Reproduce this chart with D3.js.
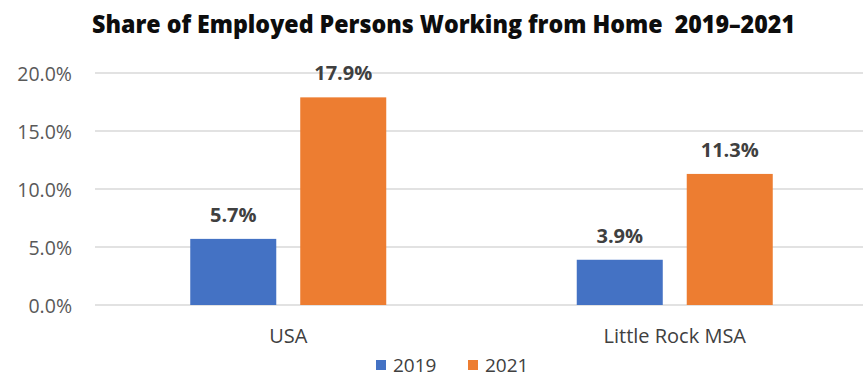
<!DOCTYPE html>
<html>
<head>
<meta charset="utf-8">
<script src="https://cdn.jsdelivr.net/npm/d3@7"></script>
<style>
  html, body { margin: 0; padding: 0; background: #ffffff; }
  svg { display: block; }
  text { font-family: "Open Sans", "DejaVu Sans", sans-serif; }
</style>
</head>
<body>
<svg id="chart" width="863" height="379"></svg>
<script>
const categories = ["USA", "Little Rock MSA"];
const seriesNames = ["2019", "2021"];
const values2019 = [0.057, 0.039];
const values2021 = [0.179, 0.113];
const yTicks = [0, 0.05, 0.10, 0.15, 0.20];
const titleText = "Share of Employed Persons Working from Home  2019\u20132021";
const colors = ["#4472C4", "#ED7D31"];

const svg = d3.select("#chart");
const W = 863, H = 379;
const plotLeft = 95, plotRight = 868, plotTop = 73, plotBottom = 305;

const y = d3.scaleLinear().domain([0, 0.20]).range([plotBottom, plotTop]);
const x0 = d3.scaleBand().domain(categories).range([plotLeft, plotRight]).padding(0);
const x1 = d3.scaleBand().domain(seriesNames).range([0, x0.bandwidth()])
  .paddingInner(0.218).paddingOuter(0.866);

// title
svg.append("text")
  .attr("x", 92).attr("y", 33)
  .attr("textLength", 703).attr("lengthAdjust", "spacingAndGlyphs")
  .style("white-space", "pre")
  .attr("font-size", 24).attr("font-weight", 800).attr("fill", "#0d0d0d")
  .text(titleText);

// gridlines
svg.append("g").selectAll("line").data(yTicks).join("line")
  .attr("x1", plotLeft).attr("x2", W)
  .attr("y1", d => y(d)).attr("y2", d => y(d))
  .attr("stroke", "#D9D9D9").attr("stroke-width", 1.5);

// y axis labels via d3 axis
const yAxis = d3.axisLeft(y).tickValues(yTicks).tickFormat(d3.format(".1%")).tickSize(0).tickPadding(0);
const gy = svg.append("g").attr("transform", "translate(72,0)").call(yAxis);
gy.select(".domain").remove();
gy.selectAll("text").attr("font-size", 19.5).attr("fill", "#595959")
  .attr("font-family", "\"Open Sans\", sans-serif").attr("dy", "0.36em");

// bars
const rows = categories.map((c, i) => ({ cat: c, vals: [values2019[i], values2021[i]] }));
const groups = svg.append("g").selectAll("g").data(rows).join("g")
  .attr("transform", d => `translate(${x0(d.cat)},0)`);
groups.selectAll("rect").data(d => d.vals.map((v, j) => ({ s: seriesNames[j], v, j })))
  .join("rect")
  .attr("x", d => x1(d.s)).attr("width", x1.bandwidth())
  .attr("y", d => y(d.v)).attr("height", d => y(0) - y(d.v))
  .attr("fill", d => colors[d.j]);
groups.selectAll("text.lbl").data(d => d.vals.map((v, j) => ({ s: seriesNames[j], v, j })))
  .join("text").attr("class", "lbl")
  .attr("x", d => x1(d.s) + x1.bandwidth() / 2)
  .attr("y", d => y(d.v) - 17)
  .attr("text-anchor", "middle").attr("font-size", 20).attr("font-weight", 700)
  .attr("fill", "#404040")
  .text(d => d3.format(".1%")(d.v));

// x axis labels
const xAxis = d3.axisBottom(x0).tickSize(0).tickPadding(0);
const gx = svg.append("g").attr("transform", `translate(0,${plotBottom})`).call(xAxis);
gx.select(".domain").remove();
gx.selectAll("text").attr("font-size", 20).attr("fill", "#404040")
  .attr("font-family", "\"Open Sans\", sans-serif").attr("dy", 0).attr("y", 38);

// legend
const legendX = [376, 468];
const lg = svg.append("g").selectAll("g").data(seriesNames).join("g")
  .attr("transform", (d, i) => `translate(${legendX[i]},0)`);
lg.append("rect").attr("x", 0).attr("y", 360).attr("width", 10).attr("height", 10)
  .attr("fill", (d, i) => colors[i]);
lg.append("text").attr("x", 17).attr("y", 372).attr("font-size", 19)
  .attr("fill", "#404040").text(d => d);
</script>
</body>
</html>
